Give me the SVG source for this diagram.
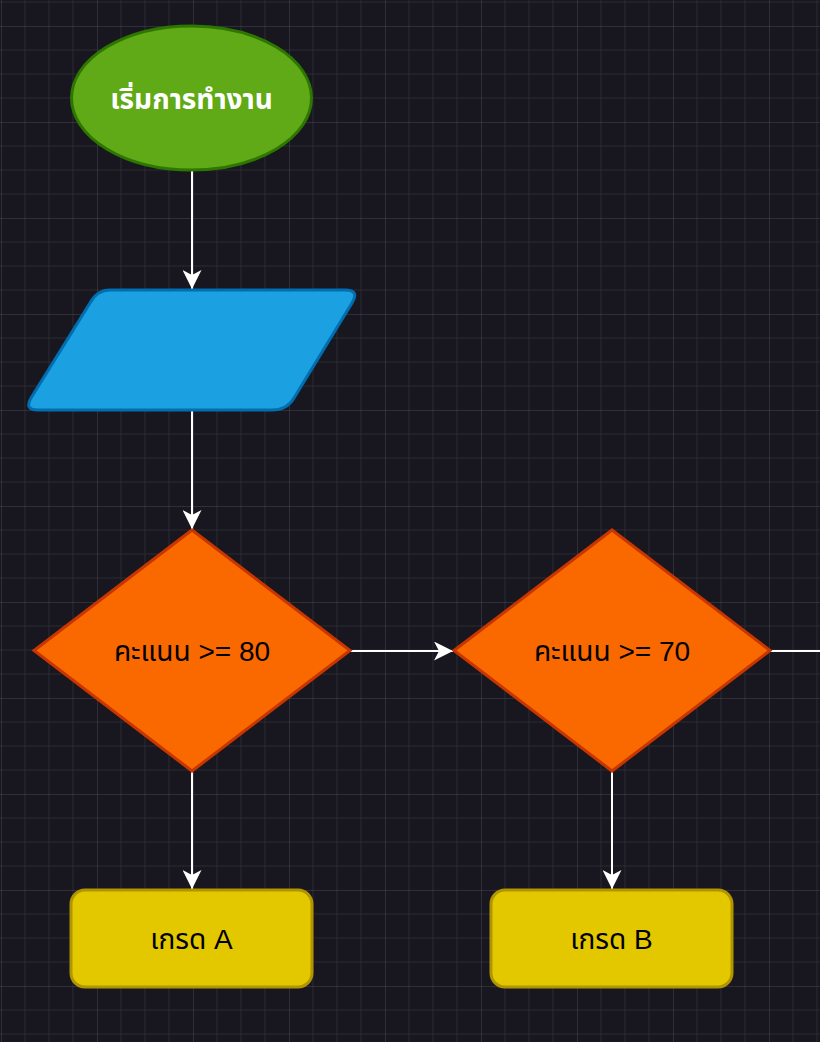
<svg xmlns="http://www.w3.org/2000/svg" width="820" height="1042" viewBox="0 0 820 1042">
  <style>
    .lbl { font-family: "Liberation Sans", "Noto Sans Thai", "DejaVu Sans", sans-serif; text-anchor: middle; }
    .dark { fill: #000000; font-size: 28px; }
    .edge { stroke: #ffffff; stroke-width: 2; fill: none; }
  </style>
  <defs>
    <pattern id="grid" patternUnits="userSpaceOnUse" x="1" y="26" width="96" height="96">
      <path d="M24 0V96M48 0V96M72 0V96M0 24H96M0 48H96M0 72H96" stroke="#2a2931" stroke-width="1" fill="none"/>
      <path d="M0 0V96M0 0H96" stroke="#48474f" stroke-width="1" fill="none"/>
    </pattern>
    <marker id="arrow" markerUnits="userSpaceOnUse" viewBox="0 0 19 19" refX="19" refY="9.5" markerWidth="19" markerHeight="19" orient="auto">
      <path d="M0 0L19 9.5L0 19L5 9.5Z" fill="#ffffff"/>
    </marker>
  </defs>
  <rect width="820" height="1042" fill="#18171f"/>
  <rect width="820" height="1042" fill="url(#grid)"/>

  <g id="connectors">
    <path class="edge" d="M192 171V289" marker-end="url(#arrow)"/>
    <path class="edge" d="M192 411V529" marker-end="url(#arrow)"/>
    <path class="edge" d="M350 651H453" marker-end="url(#arrow)"/>
    <path class="edge" d="M770 651H820"/>
    <path class="edge" d="M192 771V889" marker-end="url(#arrow)"/>
    <path class="edge" d="M612 771V889" marker-end="url(#arrow)"/>
  </g>

  <g id="start">
    <ellipse cx="191.5" cy="98" rx="120" ry="72" fill="#60a917" stroke="#2d7600" stroke-width="3"/>
    <text class="lbl" x="191.5" y="109" fill="#ffffff" font-size="28" font-weight="bold">เริ่มการทำงาน</text>
  </g>

  <g id="input">
    <path d="M110 290H345Q360 290 352 303L294 398Q287 410 272 410H38Q24 410 31 398L90 303Q97 290 110 290Z" fill="#1ba1e2" stroke="#006eaf" stroke-width="3"/>
  </g>

  <g id="decision80">
    <path d="M192 530L350 650.5L192 771L34 650.5Z" fill="#fa6800" stroke="#c73500" stroke-width="3"/>
    <text class="lbl dark" x="192" y="661">คะแนน &gt;= 80</text>
  </g>

  <g id="decision70">
    <path d="M612 530L770 650.5L612 771L454 650.5Z" fill="#fa6800" stroke="#c73500" stroke-width="3"/>
    <text class="lbl dark" x="612" y="661">คะแนน &gt;= 70</text>
  </g>

  <g id="gradeA">
    <rect x="71" y="890" width="241" height="97" rx="14" fill="#e3c800" stroke="#b09500" stroke-width="3"/>
    <text class="lbl dark" x="191.5" y="949">เกรด A</text>
  </g>

  <g id="gradeB">
    <rect x="491" y="890" width="241" height="97" rx="14" fill="#e3c800" stroke="#b09500" stroke-width="3"/>
    <text class="lbl dark" x="611.5" y="949">เกรด B</text>
  </g>
</svg>
